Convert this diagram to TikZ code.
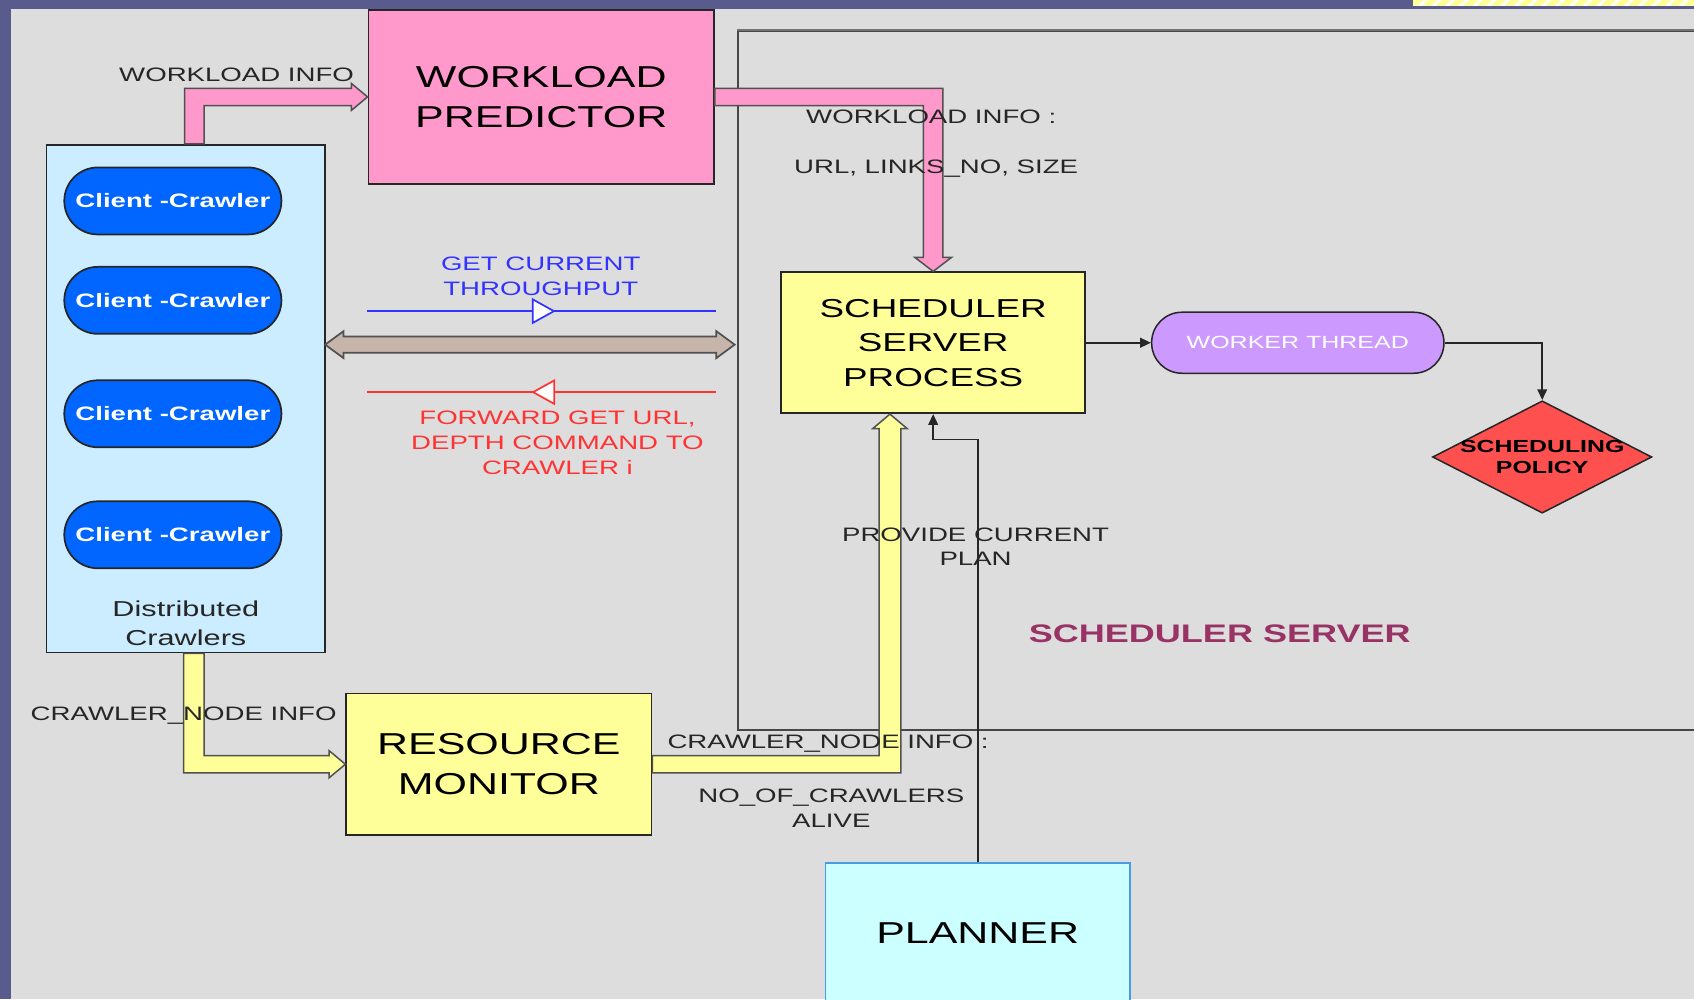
\documentclass[tikz,border=0pt]{standalone}
\usepackage{fontspec}
\setmainfont{Liberation Sans}[FakeStretch=1.42]
\usepackage{tikz}
\usetikzlibrary{positioning,calc,arrows.meta,shapes.geometric,decorations.markings,patterns.meta}

\definecolor{slidebg}{HTML}{595B8C}
\definecolor{panelgray}{HTML}{DDDDDD}
\definecolor{predpink}{HTML}{FF99CC}
\definecolor{crawlblue}{HTML}{CCECFF}
\definecolor{clientblue}{HTML}{0066FF}
\definecolor{procyellow}{HTML}{FFFF99}
\definecolor{threadlilac}{HTML}{CC99FF}
\definecolor{policyred}{HTML}{FF5050}
\definecolor{plannercyan}{HTML}{CCFFFF}
\definecolor{plannerline}{HTML}{4A9BE0}
\definecolor{getblue}{HTML}{3333FF}
\definecolor{fwdred}{HTML}{FF3333}
\definecolor{busbrown}{HTML}{C7B5AB}
\definecolor{servermagenta}{HTML}{993366}
\definecolor{edge}{HTML}{262626}

\begin{document}
\begin{tikzpicture}[x=1pt, y=-1pt,
        procbox/.style={rectangle, draw=edge, line width=1.6pt, fill=procyellow, align=center, font=\fontsize{28}{37}\selectfont},
        crawlbox/.style={rectangle, draw=edge, line width=1.6pt, fill=crawlblue},
        client/.style={rectangle, rounded corners=31pt, draw=edge, line width=1.6pt, fill=clientblue, text=white, font=\fontsize{18}{22}\selectfont\bfseries, minimum width=201pt, minimum height=62pt},
        thread/.style={rectangle, rounded corners=28pt, draw=edge, line width=1.4pt, fill=threadlilac, text=white, font=\fontsize{16.3}{20}\selectfont},
        policy/.style={diamond, draw=edge, line width=1.4pt, fill=policyred, inner sep=0pt},
        serverbox/.style={rectangle, draw=edge!85, line width=1.6pt},
        note/.style={align=center, text=edge, font=\fontsize{18}{23}\selectfont},
        fatpink/.style={fill=predpink, draw=edge!80, line width=1.4pt},
        fatyellow/.style={fill=procyellow, draw=edge!80, line width=1.4pt},
        fatbus/.style={fill=busbrown, draw=edge!80, line width=1.6pt},
        link/.style={draw=edge, line width=1.5pt, -{Triangle[length=10pt, width=9pt]}},
        getline/.style={draw=getblue, line width=1.6pt, postaction={decorate},
            decoration={markings, mark=at position 0.54 with {\arrow{Triangle[length=22pt, width=24pt, fill=white]}}}},
        fwdline/.style={draw=fwdred, line width=1.6pt, postaction={decorate},
            decoration={markings, mark=at position 0.53 with {\arrow{Triangle[length=22pt, width=24pt, fill=white]}}}}
    ]

    \useasboundingbox (0,0) rectangle (1568,925);

    % Slide background
    \fill[slidebg] (0,0) rectangle (1568,925);
    \fill[panelgray] (10.4,8.3) rectangle (1568,925);
    \fill[procyellow] (1308,0) rectangle (1568,5.5);
    \fill[pattern={Lines[angle=45, distance=9pt, line width=2.5pt]}, pattern color=white] (1308,0) rectangle (1568,5.5);

    % Scheduler server frame
    \node[serverbox, minimum width=937pt, minimum height=647pt] (server) at (1151.5,352) {};
    \draw[draw=black!55, line width=2.5pt] (server.north west) -- (server.north east);

    % Workload predictor
    \node[procbox, fill=predpink, minimum width=320pt, minimum height=161pt] (wp) at (501,89.7) {WORKLOAD\\PREDICTOR};

    % Distributed crawlers
    \node[crawlbox, minimum width=258pt, minimum height=470pt] (crawlers) at (172,369) {};
    \node[align=center, text=edge, font=\fontsize{20}{27}\selectfont] (crawlerstitle) at ($(crawlers.south)+(0,-28)$) {Distributed\\Crawlers};

    \node[client] (client1) at (160,186) {Client -Crawler};
    \node[client] (client2) at (160,278) {Client -Crawler};
    \node[client] (client3) at (160,383) {Client -Crawler};
    \node[client] (client4) at (160,495) {Client -Crawler};

    % Scheduler server process, worker thread and policy
    \node[procbox, font=\fontsize{24}{32}\selectfont, minimum width=281.5pt, minimum height=130.5pt] (ssp) at (863.75,317.25) {SCHEDULER\\SERVER\\PROCESS};
    \node[thread, minimum width=270.5pt, minimum height=56.5pt] (wt) at (1201.25,317.25) {WORKER THREAD};
    \node[policy, minimum width=203pt, minimum height=104pt] (policy) at (1427.5,423) {};
    \node[align=center, font=\fontsize{16.2}{20}\selectfont\bfseries] (policytext) at (policy.center) {SCHEDULING\\POLICY};

    % Resource monitor and planner
    \node[procbox, minimum width=282.5pt, minimum height=131pt] (rm) at (461.75,707.4) {RESOURCE\\MONITOR};
    \node[procbox, fill=plannercyan, draw=plannerline, minimum width=282pt, minimum height=130pt] (planner) at (905,863.5) {PLANNER};

    % Fat arrows: crawlers -> predictor -> scheduler process
    \filldraw[fatpink] ($(crawlers.north)+(-1,0)$) |- ($(wp.west)+(-15,-8)$) -- ++(0,-4.5) -- (wp.west)
        -- ++(-15,12.5) -- ++(0,-4.5) -| ($(crawlers.north)+(17,0)$) -- cycle;
    \filldraw[fatpink] ($(wp.east)+(0,-8)$) -| ($(ssp.north)+(9,-13)$) -- ++(8,0) -- (ssp.north)
        -- ++(-17,-13) -- ++(8,0) |- ($(wp.east)+(0,8)$) -- cycle;

    % Fat arrows: crawlers -> resource monitor -> scheduler process
    \filldraw[fatyellow] ($(crawlers.south)+(-2,0)$) |- ($(rm.west)+(-15,8)$) -- ++(0,4.5) -- (rm.west)
        -- ++(-15,-12.5) -- ++(0,4.5) -| ($(crawlers.south)+(17,0)$) -- cycle;
    \filldraw[fatyellow] ($(rm.east)+(0,8)$) -| ($(ssp.south)+(-30,13.5)$) -- ++(6,0) -- ($(ssp.south)+(-40,0)$)
        -- ++(-16,13.5) -- ++(6,0) |- ($(rm.east)+(0,-8)$) -- cycle;

    % Two-way bus between crawlers and server
    \coordinate (busL) at (301,319);
    \coordinate (busR) at (680,319);
    \filldraw[fatbus] (busL) -- ++(17,-12.5) -- ++(0,5) -- ($(busR)+(-17,-7.5)$) -- ++(0,-5) -- (busR)
        -- ++(-17,12.5) -- ++(0,-5) -- ($(busL)+(17,7.5)$) -- ++(0,5) -- cycle;

    % Throughput request and forwarded command
    \coordinate (getL) at (340,288);
    \coordinate (getR) at (663,288);
    \coordinate (fwdL) at (340,363);
    \coordinate (fwdR) at (663,363);
    \draw[getline] (getL) -- (getR);
    \draw[fwdline] (fwdR) -- (fwdL);

    % Thin links
    \draw[link] (ssp.east) -- (wt.west);
    \draw[link] (wt.east) -| (policy.north);
    \draw[link] (planner.north) |- ($(ssp.south)+(0,23.5)$) -- (ssp.south);

    % Labels
    \node[note] (wlinfo) at (219,69.5) {WORKLOAD INFO};
    \node[note] (wlinfo2) at (862,108.5) {WORKLOAD INFO :};
    \node[note] (wlfields) at (866.5,156) {URL, LINKS\_NO, SIZE};
    \node[note, text=getblue] (gettext) at (500.5,256) {GET CURRENT\\THROUGHPUT};
    \node[note, text=fwdred] (fwdtext) at (516,410) {FORWARD GET URL,\\DEPTH COMMAND TO\\CRAWLER i};
    \node[note] (plantext) at (903,506) {PROVIDE CURRENT\\PLAN};
    \node[note] (cninfo) at (170,662) {CRAWLER\_NODE INFO};
    \node[note] (cninfo2) at (766.5,688) {CRAWLER\_NODE INFO :};
    \node[note] (alive) at (769.5,748) {NO\_OF\_CRAWLERS\\ALIVE};
    \node[font=\fontsize{23.5}{28}\selectfont\bfseries, text=servermagenta] (servertitle) at (1129,587) {SCHEDULER SERVER};

\end{tikzpicture}
\end{document}
